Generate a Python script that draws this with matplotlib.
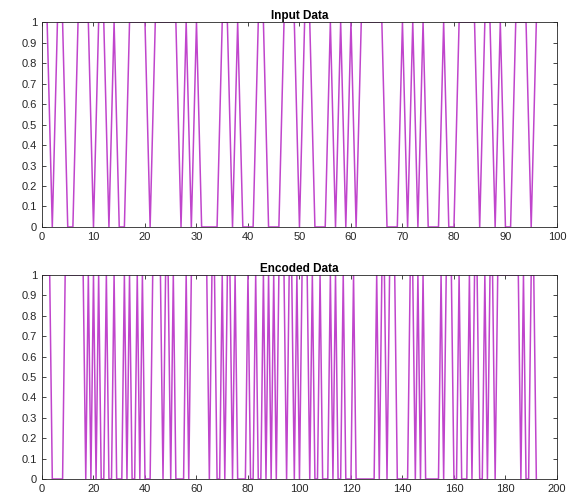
import numpy as np
import matplotlib
matplotlib.use("Agg")
import matplotlib.pyplot as plt

# bits
input_data = [
    1, 0, 1, 1, 0, 0, 1, 1, 1, 0,
    1, 1, 0, 1, 0, 0, 1, 1, 1, 1,
    0, 1, 1, 1, 1, 1, 0, 1, 0, 1,
    0, 0, 0, 0, 1, 1, 0, 1, 0, 0,
    0, 1, 1, 0, 0, 0, 1, 1, 1, 0,
    1, 1, 0, 0, 0, 1, 0, 1, 0, 1,
    0, 1, 1, 1, 1, 1, 0, 0, 0, 1,
    0, 1, 0, 1, 0, 0, 0, 1, 0, 0,
    1, 1, 1, 1, 0, 1, 1, 0, 1, 0,
    0, 1, 1, 1, 0, 1,
]

encoded_data = [
    1, 1, 1, 0, 0, 0, 0, 0, 1, 1,
    1, 1, 1, 1, 1, 1, 0, 1, 0, 1,
    0, 1, 0, 0, 1, 0, 0, 1, 0, 0,
    0, 1, 0, 1, 0, 0, 1, 0, 1, 0,
    0, 0, 1, 1, 1, 1, 0, 1, 1, 0,
    1, 0, 0, 0, 0, 1, 0, 1, 1, 1,
    1, 1, 1, 1, 0, 1, 1, 0, 0, 1,
    0, 1, 1, 0, 1, 0, 0, 0, 0, 1,
    0, 0, 1, 0, 0, 1, 0, 1, 0, 1,
    0, 1, 1, 1, 0, 1, 1, 0, 1, 0,
    1, 1, 1, 0, 1, 0, 0, 1, 0, 0,
    0, 1, 0, 1, 0, 0, 1, 0, 0, 0,
    1, 0, 0, 0, 0, 0, 0, 0, 0, 1,
    0, 1, 1, 0, 1, 1, 1, 0, 0, 0,
    0, 0, 1, 1, 0, 1, 0, 1, 0, 0,
    0, 0, 0, 0, 1, 0, 1, 1, 1, 0,
    0, 1, 0, 0, 0, 1, 0, 1, 1, 0,
    0, 1, 0, 1, 1, 0, 1, 1, 1, 1,
    1, 1, 1, 1, 1, 0, 1, 0, 0, 1,
    1, 0,
]

titles = ["Input Data", "Encoded Data"]
x_limits = [100, 200]
x_steps = [10, 20]
y_ticks = [0, 0.1, 0.2, 0.3, 0.4, 0.5, 0.6, 0.7, 0.8, 0.9, 1]
y_labels = ["0", "0.1", "0.2", "0.3", "0.4", "0.5", "0.6", "0.7", "0.8", "0.9", "1"]

plt.rcParams["font.family"] = ["Liberation Sans", "DejaVu Sans"]

fig = plt.figure(figsize=(5.69, 4.93), dpi=100)
ax_top = fig.add_axes([0.0738, 0.5396, 0.905, 0.4155])
ax_bot = fig.add_axes([0.0738, 0.0284, 0.905, 0.4138])

for ax, data, title, xmax, step in zip([ax_top, ax_bot], [input_data, encoded_data],
                                       titles, x_limits, x_steps):
    x = np.arange(1, len(data) + 1)
    ax.plot(x, data, color="#c045cc", linewidth=1.1)
    ax.set_xlim(0, xmax)
    ax.set_ylim(0, 1)
    ax.set_xticks(np.arange(0, xmax + 1, step))
    ax.set_yticks(y_ticks)
    ax.set_yticklabels(y_labels)
    ax.tick_params(direction="in", length=3, width=0.6, labelsize=8,
                   top=True, right=True, colors="#262626")
    for s in ax.spines.values():
        s.set_linewidth(0.6)
        s.set_color("#262626")
    ax.set_title(title, fontsize=8.5, fontweight="bold", pad=2)

fig.savefig("out.png", dpi=100)
